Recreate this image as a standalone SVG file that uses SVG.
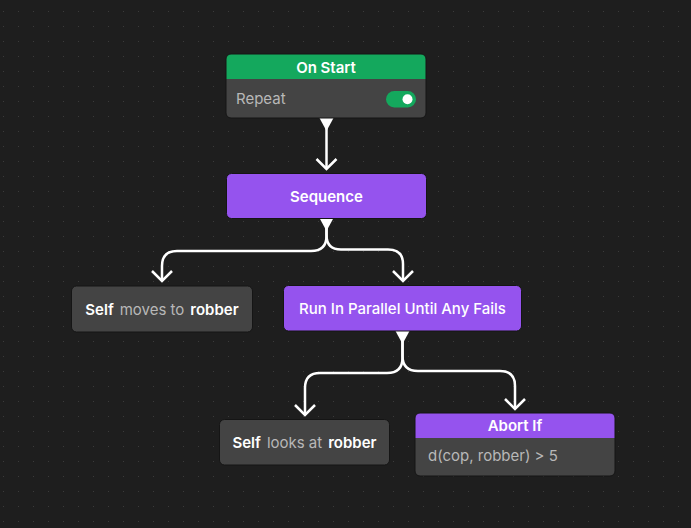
<svg xmlns="http://www.w3.org/2000/svg" width="691" height="528" viewBox="0 0 691 528">
<defs>
<pattern id="dots" x="3" y="11" width="15" height="15" patternUnits="userSpaceOnUse">
<rect x="-0.5" y="-0.5" width="1.5" height="1.5" fill="#3b3b3b"/>
</pattern>
<marker id="chev" viewBox="-12 -12 14 24" markerWidth="14" markerHeight="24" refX="0" refY="0" orient="auto" markerUnits="userSpaceOnUse">
<path d="M-10,-10 L0,0 L-10,10" fill="none" stroke="#ffffff" stroke-width="2.5"/>
</marker>
<clipPath id="c1"><rect x="226" y="54" width="200" height="64" rx="5"/></clipPath>
<clipPath id="c2"><rect x="415" y="413" width="200" height="63" rx="5"/></clipPath>
</defs>
<style>
text{font-family:Inter,"Noto Sans","Liberation Sans",sans-serif;font-size:15px}
.b{font-weight:600;fill:#ffffff}
.g{fill:#b8b8b8;font-weight:400}
.c{text-anchor:middle}
.node{stroke:#151515;stroke-width:1}
.gray{fill:#444444}
.pur{fill:#9553ee}
.wire{fill:none;stroke:#ffffff;stroke-width:2.5;marker-end:url(#chev)}
.tri{fill:#ffffff}
</style>
<rect width="691" height="528" fill="#1e1e1e"/>
<rect width="691" height="528" fill="url(#dots)"/>

<g id="connectors">
<path class="wire" d="M326.5 128 V169"/>
<path class="wire" d="M326.5 228 V236 Q326.5 251 311 251 H177 Q162 251 162 266 V281"/>
<path class="wire" d="M326.5 228 V235 Q326.5 249.5 341 249.5 H388 Q403 249.5 403 264 V281"/>
<path class="wire" d="M402.5 341 V358 Q402.5 373 387 373 H320 Q305 373 305 388 V415"/>
<path class="wire" d="M402.5 341 V356 Q402.5 371 418 371 H500 Q515 371 515 386 V409"/>
<polygon class="tri" points="319.5,118 333.5,118 326.5,131"/>
<polygon class="tri" points="319.5,218 333.5,218 326.5,231"/>
<polygon class="tri" points="395.5,331 409.5,331 402.5,344"/>
</g>

<g id="on-start">
<g clip-path="url(#c1)">
<rect x="226" y="54" width="200" height="64" class="gray"/>
<rect x="226" y="54" width="200" height="25" fill="#14a85d"/>
</g>
<rect x="226" y="54" width="200" height="64" rx="5" fill="none" class="node"/>
<text x="326" y="72.5" class="b c">On Start</text>
<text x="236" y="104" class="g">Repeat</text>
<rect x="386" y="91" width="30" height="16.5" rx="8.25" fill="#14a85d"/>
<circle cx="407.5" cy="99.2" r="5" fill="#ffffff"/>
</g>

<g id="sequence">
<rect x="226.5" y="173.5" width="200" height="45" rx="5" class="pur node"/>
<text x="326.5" y="201.5" class="b c">Sequence</text>
</g>

<g id="self-moves">
<rect x="71.5" y="286" width="181" height="46" rx="5" class="gray node"/>
<text x="162" y="314.5" class="c"><tspan class="b">Self</tspan><tspan class="g" dx="6">moves to</tspan><tspan class="b" dx="6">robber</tspan></text>
</g>

<g id="run-parallel">
<rect x="283.5" y="285.5" width="238" height="45.5" rx="5" class="pur node"/>
<text x="402.5" y="314" class="b c" style="font-weight:500">Run In Parallel Until Any Fails</text>
</g>

<g id="self-looks">
<rect x="219.5" y="419.5" width="170" height="45.5" rx="5" class="gray node"/>
<text x="304.5" y="448" class="c"><tspan class="b">Self</tspan><tspan class="g" dx="6">looks at</tspan><tspan class="b" dx="6">robber</tspan></text>
</g>

<g id="abort-if">
<g clip-path="url(#c2)">
<rect x="415" y="413" width="200" height="63" class="gray"/>
<rect x="415" y="413" width="200" height="25" fill="#9553ee"/>
</g>
<rect x="415" y="413" width="200" height="63" rx="5" fill="none" class="node"/>
<text x="515" y="431" class="b c">Abort If</text>
<text x="428" y="461" class="g">d(cop, robber) &gt; 5</text>
</g>
</svg>
